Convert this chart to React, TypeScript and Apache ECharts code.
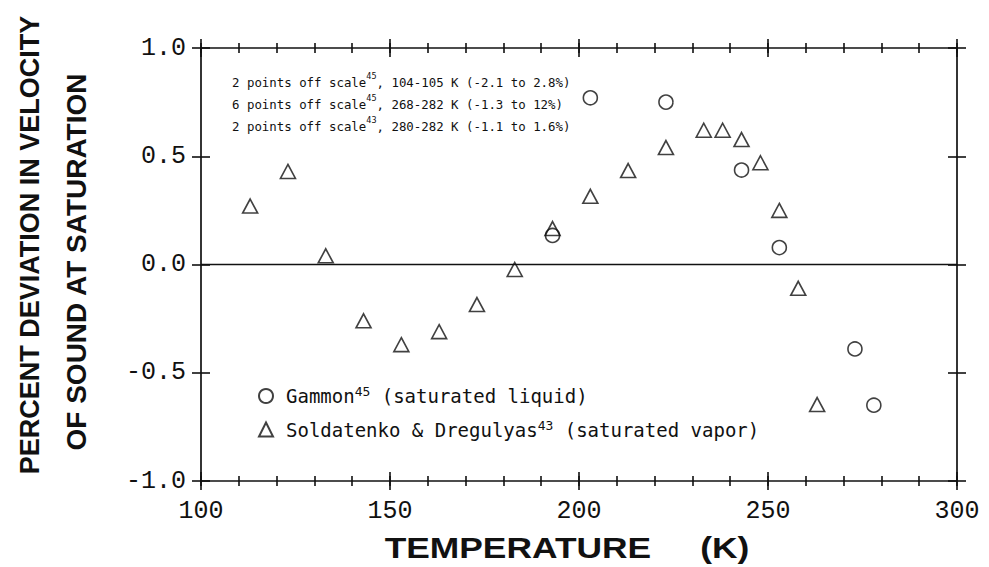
import React, { useEffect, useRef } from "react";
import * as echarts from "echarts";

// Soldatenko & Dregulyas (saturated vapor) — triangles
const vaporTemps = [113, 123, 133, 143, 153, 163, 173, 183, 193, 203, 213, 223, 233, 238, 243, 248, 253, 258, 263];
const vaporDev = [0.27, 0.43, 0.04, -0.26, -0.37, -0.31, -0.185, -0.023, 0.166, 0.315, 0.434, 0.54, 0.62, 0.62, 0.577, 0.47, 0.25, -0.11, -0.647];

// Gammon (saturated liquid) — circles
const liquidTemps = [193, 203, 223, 243, 253, 273, 278];
const liquidDev = [0.134, 0.77, 0.75, 0.436, 0.078, -0.39, -0.65];

const xMin = 100;
const xMax = 300;
const xStep = 50;
const xMinorStep = 10;
const yMin = -1.0;
const yMax = 1.0;
const yStep = 0.5;

const legendNames = ["Gammon", "Soldatenko & Dregulyas"];
const legendRefs = ["45", "43"];
const legendNotes = [" (saturated liquid)", " (saturated vapor)"];

const noteCounts = ["2 points off scale", "6 points off scale", "2 points off scale"];
const noteRefs = ["45", "45", "43"];
const noteRanges = [", 104-105 K (-2.1 to 2.8%)", ", 268-282 K (-1.3 to 12%)", ", 280-282 K (-1.1 to 1.6%)"];

const yTitle1 = "PERCENT DEVIATION IN VELOCITY";
const yTitle2 = "OF SOUND AT SATURATION";
const xTitle = "TEMPERATURE     (K)";

const INK = "#111";

export default function App() {
  const ref = useRef<HTMLDivElement>(null);

  useEffect(() => {
    if (!ref.current) return;
    const chart = echarts.init(ref.current, undefined, { renderer: "svg" });

    const tickFont = { fontFamily: "Liberation Mono", fontSize: 25, color: INK };
    const lineStyle = { color: INK, width: 1.7 };

    // Tick-only x axis, shifted inward by half the tick length so its (outward) ticks cross the frame
    const tickX = (position: "top" | "bottom", step: number, half: number) => ({
      type: "value",
      position,
      offset: -half,
      min: xMin,
      max: xMax,
      interval: step,
      axisLine: { show: false, onZero: false },
      axisTick: { show: true, inside: false, length: half * 2, lineStyle: { color: INK, width: 1.6 } },
      splitLine: { show: false },
      axisLabel: { show: false },
    });
    const frameX = (position: "top" | "bottom", labels: boolean) => ({
      type: "value",
      position,
      min: xMin,
      max: xMax,
      interval: xStep,
      axisLine: { show: true, onZero: false, lineStyle },
      axisTick: { show: false },
      splitLine: { show: false },
      axisLabel: labels
        ? { show: true, margin: 18, ...tickFont, formatter: (v: number) => String(v) }
        : { show: false },
    });

    const tickY = (position: "left" | "right", half: number) => ({
      type: "value",
      position,
      offset: -half,
      min: yMin,
      max: yMax,
      interval: yStep,
      axisLine: { show: false, onZero: false },
      axisTick: { show: true, inside: false, length: half * 2, lineStyle: { color: INK, width: 1.6 } },
      splitLine: { show: false },
      axisLabel: { show: false },
    });
    const frameY = (position: "left" | "right", labels: boolean) => ({
      type: "value",
      position,
      min: yMin,
      max: yMax,
      interval: yStep,
      axisLine: { show: true, onZero: false, lineStyle },
      axisTick: { show: false },
      splitLine: { show: false },
      axisLabel: labels
        ? { show: true, margin: 15, ...tickFont, formatter: (v: number) => v.toFixed(1) }
        : { show: false },
    });

    const legendFormatter = (name: string) => {
      const i = legendNames.indexOf(name);
      return `{a|${legendNames[i]}}{s|${legendRefs[i]}}{a|${legendNotes[i]}}`;
    };

    const noteText = noteCounts
      .map((c, i) => `{a|${c}}{s|${noteRefs[i]}}{a|${noteRanges[i]}}`)
      .join("\n");

    const symbolStyle = { color: "rgba(0,0,0,0)", borderColor: INK, borderWidth: 1.6 };

    chart.setOption({
      animation: false,
      backgroundColor: "#fff",
      grid: { left: 201, right: 32, top: 48, bottom: 86 },
      xAxis: [
        frameX("bottom", true),
        frameX("top", false),
        tickX("bottom", xStep, 9),
        tickX("bottom", xMinorStep, 5),
        tickX("top", xStep, 9),
        tickX("top", xMinorStep, 5),
      ],
      yAxis: [frameY("left", true), frameY("right", false), tickY("left", 9), tickY("right", 9)],
      legend: {
        orient: "vertical",
        left: 253,
        top: 380,
        itemWidth: 14,
        itemHeight: 14,
        itemGap: 13,
        selectedMode: false,
        data: [
          { name: legendNames[0], icon: "circle" },
          { name: legendNames[1], icon: "triangle" },
        ],
        formatter: legendFormatter,
        textStyle: {
          padding: [0, 0, 0, 8],
          rich: {
            a: { fontFamily: "DejaVu Sans Mono", fontSize: 19, color: INK, lineHeight: 22 },
            s: { fontFamily: "DejaVu Sans Mono", fontSize: 13, color: INK, lineHeight: 14, verticalAlign: "top" },
          },
        },
      },
      series: [
        {
          name: legendNames[0],
          type: "scatter",
          xAxisIndex: 0,
          yAxisIndex: 0,
          symbol: "circle",
          symbolSize: 14,
          itemStyle: symbolStyle,
          data: liquidTemps.map((t, i) => [t, liquidDev[i]]),
          z: 3,
        },
        {
          name: legendNames[1],
          type: "scatter",
          xAxisIndex: 0,
          yAxisIndex: 0,
          symbol: "triangle",
          symbolSize: [15, 14],
          itemStyle: symbolStyle,
          data: vaporTemps.map((t, i) => [t, vaporDev[i]]),
          z: 3,
          markLine: {
            silent: true,
            symbol: ["none", "none"],
            label: { show: false },
            lineStyle: { color: INK, width: 1.4, type: "solid" },
            data: [{ yAxis: 0 }],
          },
        },
      ],
      graphic: [
        {
          type: "text",
          left: 232,
          top: 71,
          style: {
            text: noteText,
            fill: INK,
            rich: {
              a: { fontFamily: "DejaVu Sans Mono", fontSize: 12.4, fill: INK, lineHeight: 22 },
              s: { fontFamily: "DejaVu Sans Mono", fontSize: 8.5, fill: INK, lineHeight: 12, verticalAlign: "top" },
            },
          },
        },
        {
          type: "text",
          x: 30,
          y: 245,
          rotation: Math.PI / 2,
          style: {
            text: yTitle1,
            fontFamily: "Liberation Sans",
            fontWeight: "bold",
            fontSize: 27,
            fill: INK,
            align: "center",
            verticalAlign: "middle",
          },
        },
        {
          type: "text",
          x: 76,
          y: 262,
          rotation: Math.PI / 2,
          style: {
            text: yTitle2,
            fontFamily: "Liberation Sans",
            fontWeight: "bold",
            fontSize: 28,
            fill: INK,
            align: "center",
            verticalAlign: "middle",
          },
        },
        {
          type: "text",
          x: 567,
          y: 548,
          scaleX: 1.22,
          style: {
            text: xTitle,
            fontFamily: "Liberation Sans",
            fontWeight: "bold",
            fontSize: 29,
            fill: INK,
            align: "center",
            verticalAlign: "middle",
          },
        },
      ],
    });

    return () => chart.dispose();
  }, []);

  return <div ref={ref} style={{ width: 989, height: 567, position: "absolute", left: 0, top: 0 }} />;
}
